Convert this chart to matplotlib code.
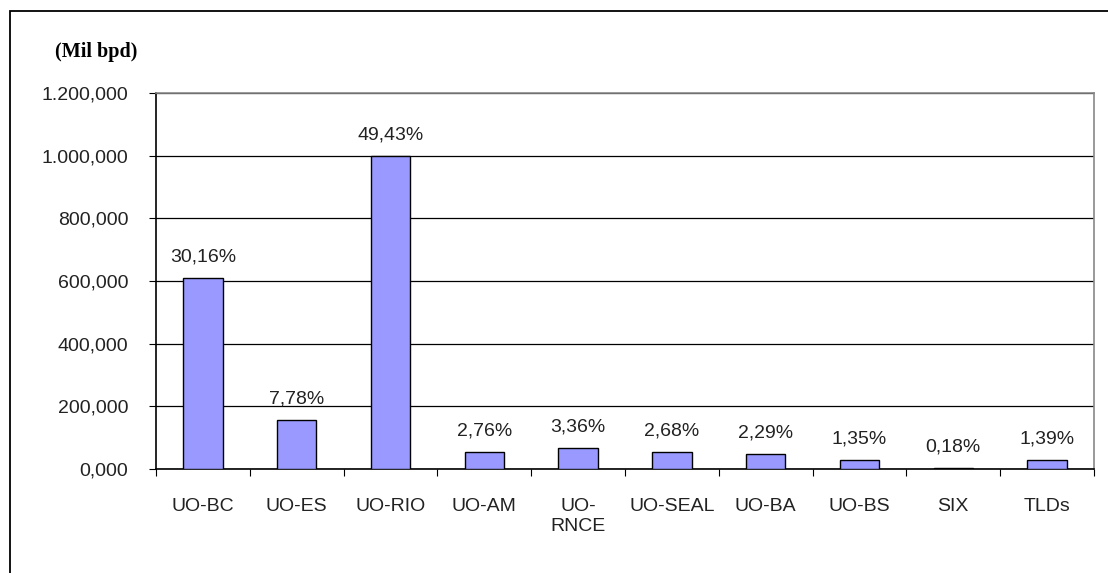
import matplotlib.pyplot as plt
from matplotlib.patches import Rectangle

plt.rcParams["font.family"] = ["Liberation Sans", "DejaVu Sans"]

categories = ['UO-BC', 'UO-ES', 'UO-RIO', 'UO-AM', 'UO-\nRNCE', 'UO-SEAL', 'UO-BA', 'UO-BS', 'SIX', 'TLDs']
values = [610.0, 157.4, 1000.0, 55.8, 68.0, 54.2, 46.3, 27.3, 3.6, 28.1]
pct_labels = ['30,16%', '7,78%', '49,43%', '2,76%', '3,36%', '2,68%', '2,29%', '1,35%', '0,18%', '1,39%']
yticks = [0, 200, 400, 600, 800, 1000, 1200]
ytick_labels = ['0,000', '200,000', '400,000', '600,000', '800,000', '1.000,000', '1.200,000']

fig = plt.figure(figsize=(11.08, 5.73), dpi=100)
ax = fig.add_axes([156 / 1108, 104 / 573, 938 / 1108, 376 / 573])

# outer chart border (right/bottom run off the picture)
fig.patches.append(Rectangle((10 / 1108, -0.05), 1.2, 1.05 - 11 / 573, transform=fig.transFigure,
                             fill=False, edgecolor='black', linewidth=1.3))

x = range(len(categories))
bars = ax.bar(x, values, width=0.42, color='#9999ff', edgecolor='black', linewidth=1.0, zorder=3)

for b, lab in zip(bars, pct_labels):
    ax.annotate(lab, (b.get_x() + b.get_width() / 2, b.get_height()), xytext=(0, 9),
                textcoords='offset points', ha='center', va='bottom', fontsize=14, color='#222222')

ax.set_xlim(-0.5, len(categories) - 0.5)
ax.set_ylim(0, 1200)
ax.set_yticks(yticks)
ax.set_yticklabels(ytick_labels, fontsize=14, color='#222222')
ax.yaxis.grid(True, color='black', linewidth=0.9, zorder=0)

ax.set_xticks([i - 0.5 for i in range(len(categories) + 1)])
ax.set_xticklabels([])
ax.set_xticks(list(x), minor=True)
ax.set_xticklabels(categories, minor=True, fontsize=14, va='top', color='#222222')
ax.tick_params(axis='x', which='minor', length=0, pad=21)
ax.tick_params(axis='x', which='major', length=5, direction='out')
ax.tick_params(axis='y', length=5, direction='out', pad=15)

for side in ['left', 'bottom']:
    ax.spines[side].set_linewidth(1.2)
ax.spines['top'].set_color('#888888')
ax.spines['top'].set_linewidth(1.2)
ax.spines['right'].set_color('#888888')
ax.spines['right'].set_linewidth(1.2)

fig.text(55 / 1108, 1 - 52 / 573, '(Mil bpd)', fontsize=14.5, fontweight='bold',
         family=['Liberation Serif', 'DejaVu Serif'], va='center', ha='left')

fig.savefig('out.png', dpi=100)
